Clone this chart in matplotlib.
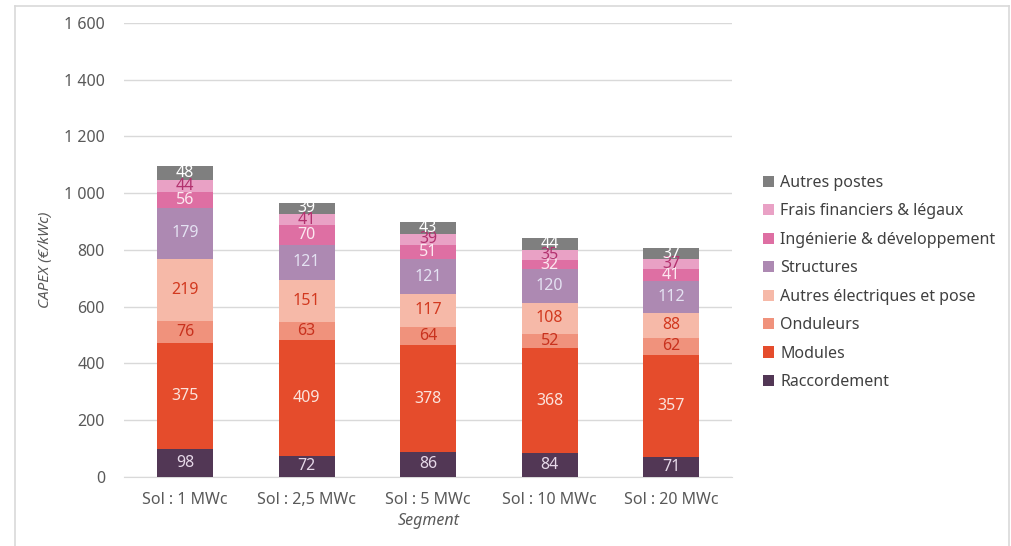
import matplotlib.pyplot as plt
from matplotlib.lines import Line2D
from matplotlib.patches import Patch
from matplotlib.ticker import FuncFormatter

plt.rcParams['font.family'] = ['Noto Sans', 'DejaVu Sans']

segments = ["Sol : 1 MWc", "Sol : 2,5 MWc", "Sol : 5 MWc", "Sol : 10 MWc", "Sol : 20 MWc"]

postes = ["Raccordement", "Modules", "Onduleurs", "Autres électriques et pose",
          "Structures", "Ingénierie & développement", "Frais financiers & légaux",
          "Autres postes"]

raccordement = [98, 72, 86, 84, 71]
modules = [375, 409, 378, 368, 357]
onduleurs = [76, 63, 64, 52, 62]
autres_elec = [219, 151, 117, 108, 88]
structures = [179, 121, 121, 120, 112]
ingenierie = [56, 70, 51, 32, 41]
frais = [44, 41, 39, 35, 37]
autres_postes = [48, 39, 43, 44, 37]

series = [raccordement, modules, onduleurs, autres_elec, structures, ingenierie, frais, autres_postes]

couleurs = ["#523755", "#E54C2C", "#F0927C", "#F6B9A8", "#AD89B2", "#DE6FA3", "#E9A1C5", "#7F7F7F"]
couleurs_txt = ["#E6D8E8", "#FBE3DC", "#C8321E", "#D2391F", "#E4E2F2", "#FCE8F0", "#B3326F", "#FFFFFF"]

fig = plt.figure(figsize=(10.11, 5.46), dpi=100)
ax = fig.add_axes([0.123, 0.127, 0.601, 0.831])

x = range(len(segments))
bas = [0] * len(segments)
for vals, c, ct in zip(series, couleurs, couleurs_txt):
    bars = ax.bar(x, vals, bottom=bas, width=0.46, color=c, zorder=3)
    for rect, v, b in zip(bars, vals, bas):
        ax.text(rect.get_x() + rect.get_width() / 2, b + v / 2, str(v),
                ha="center", va="center", color=ct, fontsize=11.5, zorder=4)
    bas = [b + v for b, v in zip(bas, vals)]

ax.set_xlim(-0.5, 4.5)
ax.set_ylim(0, 1600)
ax.set_yticks(range(0, 1601, 200))
ax.yaxis.set_major_formatter(FuncFormatter(lambda v, p: f"{int(v):,}".replace(",", " ")))
ax.set_xticks(list(x))
ax.set_xticklabels(segments)
ax.tick_params(axis="both", length=0, labelsize=11.5, colors="#595959")
ax.tick_params(axis="y", pad=14)
ax.tick_params(axis="x", pad=11)
ax.grid(axis="y", color="#D9D9D9", linewidth=1, zorder=0)
for s in ["top", "right", "left"]:
    ax.spines[s].set_visible(False)
ax.spines["bottom"].set_color("#D9D9D9")
ax.set_ylabel("CAPEX (€/kWc)", fontstyle="italic", fontsize=11, color="#595959")
ax.set_xlabel("Segment", fontstyle="italic", fontsize=11.5, color="#595959", labelpad=4)
ax.yaxis.set_label_coords(-0.118, 0.478)

handles = [Patch(facecolor=c) for c in couleurs[::-1]]
leg = fig.legend(handles, postes[::-1], loc="upper left", bbox_to_anchor=(0.74, 0.706),
                 frameon=False, fontsize=11.5, handlelength=0.7, handleheight=0.7,
                 handletextpad=0.4, labelspacing=0.78)
for t in leg.get_texts():
    t.set_color("#404040")

# cadre gris autour du graphique
for xs, ys in [([0.015, 0.015], [0, 0.989]), ([0.015, 0.998], [0.989, 0.989]),
               ([0.998, 0.998], [0, 0.989])]:
    fig.add_artist(Line2D(xs, ys, color="#D9D9D9", linewidth=1.2, transform=fig.transFigure))

fig.savefig("out.png", dpi=100)
